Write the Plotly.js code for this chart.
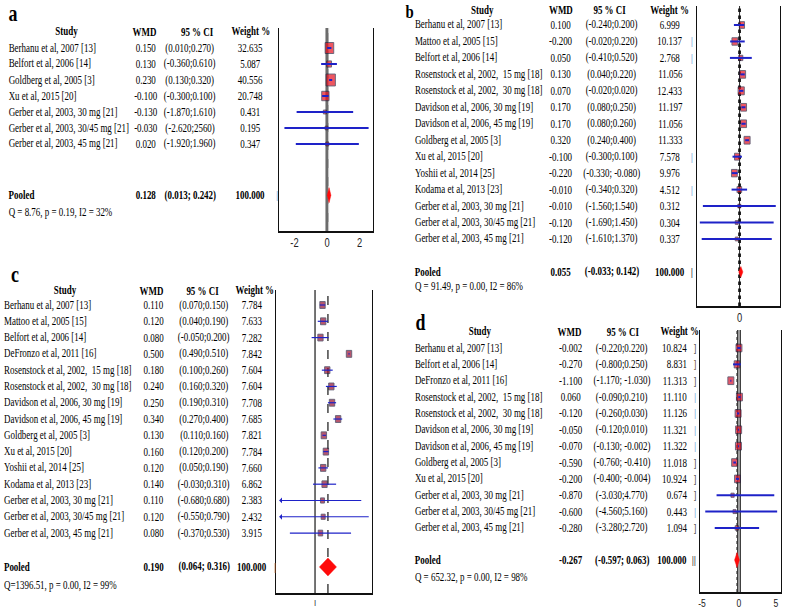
<!DOCTYPE html>
<html><head><meta charset="utf-8">
<script src="https://cdn.plot.ly/plotly-3.0.1.min.js"></script>
<style>
html,body{margin:0;padding:0;overflow:hidden;background:#fff;}
#wrap{width:786px;height:611px;overflow:hidden;}
#chart{width:1008px;height:611px;transform:scaleX(0.779762);transform-origin:0 0;}
</style></head><body><div id="wrap"><div id="chart"></div></div>
<script>
// ================= DATA =================
// Panel a
const studiesA = ["Berhanu et al, 2007 [13]","Belfort et al, 2006 [14]","Goldberg et al, 2005 [3]","Xu et al, 2015 [20]","Gerber et al, 2003, 30 mg [21]","Gerber et al, 2003, 30/45 mg [21]","Gerber et al, 2003, 45 mg [21]"];
const wmdA = [0.150, 0.130, 0.230, -0.100, -0.130, -0.030, 0.020];
const ciLoA = [0.010, -0.360, 0.130, -0.300, -1.870, -2.620, -1.920];
const ciHiA = [0.270, 0.610, 0.320, 0.100, 1.610, 2.560, 1.960];
const ciTextA = ["(0.010;0.270)","(-0.360;0.610)","(0.130;0.320)","(-0.300;0.100)","(-1.870;1.610)","(-2.620;2560)","(-1.920;1.960)"];
const weightA = [32.635, 5.087, 40.556, 20.748, 0.431, 0.195, 0.347];
const pooledA = [0.128, 0.013, 0.242];
const qTextA = "Q = 8.76, p = 0.19, I2 = 32%";

// Panel b
const studiesB = ["Berhanu et al, 2007 [13]","Mattoo et al, 2005 [15]","Belfort et al, 2006 [14]","Rosenstock et al, 2002,  15 mg [18]","Rosenstock et al, 2002,  30 mg [18]","Davidson et al, 2006, 30 mg [19]","Davidson et al, 2006, 45 mg [19]","Goldberg et al, 2005 [3]","Xu et al, 2015 [20]","Yoshii et al, 2014 [25]","Kodama et al, 2013 [23]","Gerber et al, 2003, 30 mg [21]","Gerber et al, 2003, 30/45 mg [21]","Gerber et al, 2003, 45 mg [21]"];
const wmdB = [0.100, -0.200, 0.050, 0.130, 0.070, 0.170, 0.170, 0.320, -0.100, -0.220, -0.010, -0.010, -0.120, -0.120];
const ciLoB = [-0.240, -0.400, -0.410, 0.040, -0.020, 0.080, 0.080, 0.240, -0.300, -0.330, -0.340, -1.560, -1.690, -1.610];
const ciHiB = [0.200, 0.220, 0.520, 0.220, 0.160, 0.250, 0.260, 0.400, 0.100, -0.080, 0.320, 1.540, 1.450, 1.370];
const ciTextB = ["(-0.240;0.200)","(-0.020;0.220)","(-0.410;0.520)","(0.040;0.220)","(-0.020;0.020)","(0.080;0.250)","(0.080;0.260)","(0.240;0.400)","(-0.300;0.100)","(-0.330; -0.080)","(-0.340;0.320)","(-1.560;1.540)","(-1.690;1.450)","(-1.610;1.370)"];
const weightB = [6.999, 10.137, 2.768, 11.056, 12.433, 11.197, 11.056, 11.333, 7.578, 9.976, 4.512, 0.312, 0.304, 0.337];
const pooledB = [0.055, -0.033, 0.142];
const qTextB = "Q = 91.49, p = 0.00, I2 = 86%";

// Panel c
const studiesC = ["Berhanu et al, 2007 [13]","Mattoo et al, 2005 [15]","Belfort et al, 2006 [14]","DeFronzo et al, 2011 [16]","Rosenstock et al, 2002,  15 mg [18]","Rosenstock et al, 2002,  30 mg [18]","Davidson et al, 2006, 30 mg [19]","Davidson et al, 2006, 45 mg [19]","Goldberg et al, 2005 [3]","Xu et al, 2015 [20]","Yoshii et al, 2014 [25]","Kodama et al, 2013 [23]","Gerber et al, 2003, 30 mg [21]","Gerber et al, 2003, 30/45 mg [21]","Gerber et al, 2003, 45 mg [21]"];
const wmdC = [0.110, 0.120, 0.080, 0.500, 0.180, 0.240, 0.250, 0.340, 0.130, 0.160, 0.120, 0.140, 0.110, 0.120, 0.080];
const ciLoC = [0.070, 0.040, -0.050, 0.490, 0.100, 0.160, 0.190, 0.270, 0.110, 0.120, 0.050, -0.030, -0.680, -0.550, -0.370];
const ciHiC = [0.150, 0.190, 0.200, 0.510, 0.260, 0.320, 0.310, 0.400, 0.160, 0.200, 0.190, 0.310, 0.680, 0.790, 0.530];
const ciTextC = ["(0.070;0.150)","(0.040;0.190)","(-0.050;0.200)","(0.490;0.510)","(0.100;0.260)","(0.160;0.320)","(0.190;0.310)","(0.270;0.400)","(0.110;0.160)","(0.120;0.200)","(0.050;0.190)","(-0.030;0.310)","(-0.680;0.680)","(-0.550;0.790)","(-0.370;0.530)"];
const weightC = [7.784, 7.633, 7.282, 7.842, 7.604, 7.604, 7.708, 7.685, 7.821, 7.784, 7.660, 6.862, 2.383, 2.432, 3.915];
const pooledC = [0.190, 0.064, 0.316];
const qTextC = "Q=1396.51, p = 0.00, I2 = 99%";

// Panel d
const studiesD = ["Berhanu et al, 2007 [13]","Belfort et al, 2006 [14]","DeFronzo et al, 2011 [16]","Rosenstock et al, 2002,  15 mg [18]","Rosenstock et al, 2002,  30 mg [18]","Davidson et al, 2006, 30 mg [19]","Davidson et al, 2006, 45 mg [19]","Goldberg et al, 2005 [3]","Xu et al, 2015 [20]","Gerber et al, 2003, 30 mg [21]","Gerber et al, 2003, 30/45 mg [21]","Gerber et al, 2003, 45 mg [21]"];
const wmdD = [-0.002, -0.270, -1.100, 0.060, -0.120, -0.050, -0.070, -0.590, -0.200, -0.870, -0.600, -0.280];
const ciLoD = [-0.220, -0.800, -1.170, -0.090, -0.260, -0.120, -0.130, -0.760, -0.400, -3.030, -4.560, -3.280];
const ciHiD = [0.220, 0.250, -1.030, 0.210, 0.030, 0.010, -0.002, -0.410, -0.004, 4.770, 5.160, 2.720];
const ciTextD = ["(-0.220;0.220)","(-0.800;0.250)","(-1.170; -1.030)","(-0.090;0.210)","(-0.260;0.030)","(-0.120;0.010)","(-0.130; -0.002)","(-0.760; -0.410)","(-0.400; -0.004)","(-3.030;4.770)","(-4.560;5.160)","(-3.280;2.720)"];
const weightD = [10.824, 8.831, 11.313, 11.110, 11.126, 11.321, 11.322, 11.018, 10.924, 0.674, 0.443, 1.094];
const pooledD = [-0.267, -0.597, 0.063];
const qTextD = "Q = 652.32, p = 0.00, I2 = 98%";

const headerLabels = ["Study", "WMD", "95 % CI", "Weight %"];

// ================= LAYOUT HELPERS =================
const W = 1008, H = 611;
const SERIF = "Liberation Serif, Times New Roman, serif";
const SANS = "Liberation Sans, Arial, sans-serif";
const FS = 11.5;
function px(x){ return x / 786; }
function py(y){ return 1 - y / 611; }

const panels = [
  {name:'a', studies:studiesA, wmd:wmdA, lo:ciLoA, hi:ciHiA, ciText:ciTextA, wt:weightA, pooled:pooledA, q:qTextA,
   L:279, R:373, T:28, B:231, row0:48, sp:16, pooledRow:9.2, qRow:10.3, hdrRow:-1.0,
   xr:[-2.954, 2.831], tickvals:[-2,0,2], ticktext:['-2','0','2'], tickSize:12,
   col:{study:8, wmd:146, ci:190, wt:250, wtAnchor:'center'}, hdr:[67,145,197,251],
   label:[13, 13.6, 23], ciW:2, box:'#e8101e', dH:0.47, clipLo:null, ref:'a',
   marks:[{r:'p', x:277, t:'|', c:'#7fb0e0'}]},
  {name:'b', studies:studiesB, wmd:wmdB, lo:ciLoB, hi:ciHiB, ciText:ciTextB, wt:weightB, pooled:pooledB, q:qTextB,
   L:697, R:780, T:6, B:306, row0:25, sp:16.46, pooledRow:15.0, qRow:15.9, hdrRow:-0.91,
   xr:[-1.81, 1.72], tickvals:[0], ticktext:['0'], tickSize:12,
   col:{study:414, wmd:561, ci:612, wt:670, wtAnchor:'center'}, hdr:[482,561,610,670],
   label:[410, 11.2, 19], ciW:2, box:'#e8101e', dH:0.33, clipLo:null, ref:'b',
   marks:[{r:1,x:692,t:'|',c:'#7fb0e0'},{r:2,x:692,t:'|',c:'#7fb0e0'},{r:8,x:692,t:'|',c:'#7fb0e0'},{r:10,x:692,t:'|',c:'#7fb0e0'},{r:'p',x:692,t:'|',c:'#334'}]},
  {name:'c', studies:studiesC, wmd:wmdC, lo:ciLoC, hi:ciHiC, ciText:ciTextC, wt:weightC, pooled:pooledC, q:qTextC,
   L:276, R:372, T:290, B:593, row0:305, sp:16.29, pooledRow:16.08, qRow:17.19, hdrRow:-0.86,
   xr:[-0.574, 0.838], tickvals:[0], ticktext:['ı'], tickSize:10,
   col:{study:3, wmd:154, ci:204, wt:252, wtAnchor:'center'}, hdr:[65,152,203,255],
   label:[15, 274.6, 23], ciW:1.2, box:'#9a1030', dH:0.55, clipLo:-0.5, ref:'c',
   marks:[{r:'p', x:275, t:'|', c:'#999'}]},
  {name:'d', studies:studiesD, wmd:wmdD, lo:ciLoD, hi:ciHiD, ciText:ciTextD, wt:weightD, pooled:pooledD, q:qTextD,
   L:700, R:781, T:330, B:592, row0:348, sp:16.36, pooledRow:12.96, qRow:14.0, hdrRow:-0.98,
   xr:[-5.27, 5.68], tickvals:[-5,0,5], ticktext:['-5','0','5'], tickSize:11,
   col:{study:414, wmd:571, ci:622, wt:688, wtAnchor:'right'}, hdr:[480,570,623,680],
   label:[421, 322.6, 23], ciW:2, box:'#d8102a', dH:0.46, clipLo:null, ref:'d',
   marks:[{r:0,x:695,t:']',c:'#555'},{r:1,x:695,t:']',c:'#7a5a40'},{r:2,x:695,t:']',c:'#555'},{r:3,x:695,t:'|',c:'#7fb0e0'},{r:4,x:695,t:'|',c:'#7fb0e0'},{r:5,x:695,t:'|',c:'#7fb0e0'},{r:6,x:695,t:'|',c:'#7fb0e0'},{r:7,x:695,t:']',c:'#555'},{r:8,x:695,t:']',c:'#555'},{r:9,x:695,t:']',c:'#555'},{r:10,x:695,t:'|',c:'#7fb0e0'},{r:11,x:695,t:']',c:'#555'},{r:'p',x:694,t:'||',c:'#444'}]}
];

const traces = [], shapes = [], annotations = [];
const layout = {width:W, height:H, margin:{l:0,r:0,t:0,b:0,pad:0}, paper_bgcolor:'#fff', plot_bgcolor:'rgba(0,0,0,0)',
  showlegend:false, shapes:shapes, annotations:annotations, hovermode:false};

function addText(x, y, text, opts){
  annotations.push(Object.assign({xref:'paper', yref:'paper', x:px(x), y:py(y), text:text, showarrow:false,
    xanchor:'center', yanchor:'middle', borderpad:0, font:{family:SERIF, size:FS, color:'#000'}}, opts || {}));
}

panels.forEach(function(p, k){
  const n = k === 0 ? '' : String(k + 1);
  const xa = 'x' + n, ya = 'y' + n;
  const rTop = (p.T - p.row0) / p.sp, rBot = (p.B - p.row0) / p.sp;
  const rowPx = function(r){ return p.row0 + r * p.sp; };

  layout['xaxis' + n] = {domain:[px(p.L), px(p.R)], range:p.xr, anchor:ya, showline:true, linecolor:'#111', linewidth:1.5,
    mirror:false, showgrid:false, zeroline:false, ticks:'', tickvals:p.tickvals, ticktext:p.ticktext,
    tickfont:{family:SANS, size:p.tickSize, color:'#222'}, fixedrange:true};
  layout['yaxis' + n] = {domain:[py(p.B), py(p.T)], range:[rBot, rTop], anchor:xa, showline:true, mirror:true,
    linecolor:'#111', linewidth:1.5, showgrid:false, zeroline:false, showticklabels:false, ticks:'', fixedrange:true};

  const rows = p.studies.map(function(_, i){ return i; });

  // reference lines
  const est = p.pooled[0];
  if (p.ref === 'a') {
    shapes.push({type:'line', xref:xa, yref:ya + ' domain', x0:0, x1:0, y0:0, y1:1, layer:'below', line:{color:'#6c6c6c', width:4}});
    shapes.push({type:'line', xref:xa, yref:ya + ' domain', x0:est, x1:est, y0:0, y1:1, layer:'below', line:{color:'#f4f4f4', width:1.2, dash:'dash'}});
  } else if (p.ref === 'b') {
    shapes.push({type:'line', xref:xa, yref:ya + ' domain', x0:0, x1:0, y0:0, y1:1, layer:'below', line:{color:'#111', width:1}});
    shapes.push({type:'line', xref:xa, yref:ya + ' domain', x0:0, x1:0, y0:0, y1:1, layer:'below', line:{color:'#111', width:3.5, dash:'dot'}});
  } else if (p.ref === 'c') {
    shapes.push({type:'line', xref:xa, yref:ya + ' domain', x0:0, x1:0, y0:0, y1:1, layer:'below', line:{color:'#111', width:1.5}});
    shapes.push({type:'line', xref:xa, yref:ya + ' domain', x0:est, x1:est, y0:0, y1:1, layer:'below', line:{color:'#111', width:1.5, dash:'dash'}});
  } else {
    shapes.push({type:'line', xref:xa, yref:ya + ' domain', x0:0, x1:0, y0:0, y1:1, layer:'below', line:{color:'#222', width:5}});
    shapes.push({type:'line', xref:xa, yref:ya + ' domain', x0:0, x1:0, y0:0, y1:1, layer:'below', line:{color:'#9a9a9a', width:3}});
    shapes.push({type:'line', xref:xa, yref:ya + ' domain', x0:est, x1:est, y0:0, y1:1, layer:'below', line:{color:'#333', width:1.5, dash:'dot'}});
  }

  // study boxes
  traces.push({type:'scatter', mode:'markers', xaxis:xa, yaxis:ya, x:p.wmd, y:rows, hoverinfo:'skip',
    marker:{symbol:'square', size:p.wt.map(function(w){ return 3 + 1.4 * Math.sqrt(w); }), color:p.box, line:{color:'#1c1c3c', width:1}}});

  // confidence intervals
  const lx = [], ly = [];
  p.lo.forEach(function(lo, i){
    const a = p.clipLo !== null ? Math.max(lo, p.clipLo) : lo;
    lx.push(a, p.hi[i], null); ly.push(i, i, null);
  });
  traces.push({type:'scatter', mode:'lines', xaxis:xa, yaxis:ya, x:lx, y:ly, hoverinfo:'skip', line:{color:'#1e22c8', width:p.ciW}});
  if (p.clipLo !== null) {
    const axv = [], ayv = [];
    p.lo.forEach(function(lo, i){ if (lo < p.clipLo) { axv.push(p.clipLo); ayv.push(i); } });
    traces.push({type:'scatter', mode:'markers', xaxis:xa, yaxis:ya, x:axv, y:ayv, hoverinfo:'skip',
      marker:{symbol:'triangle-left', size:5, color:'#1e22c8'}});
  }

  // pooled diamond
  const pr = p.pooledRow, plo = p.pooled[1], phi = p.pooled[2], h = p.dH;
  traces.push({type:'scatter', mode:'lines', fill:'toself', xaxis:xa, yaxis:ya, hoverinfo:'skip',
    x:[plo, est, phi, est, plo], y:[pr, pr - h, pr, pr + h, pr], fillcolor:'#ff0a0a', line:{color:'#ff0a0a', width:0.5}});

  // panel letter
  addText(p.label[0], p.label[1], '<b>' + p.name + '</b>', {font:{family:SERIF, size:p.label[2], color:'#000'}});

  // header
  const hy = rowPx(p.hdrRow);
  addText(p.hdr[0], hy, '<b>' + headerLabels[0] + '</b>');
  addText(p.hdr[1], hy, '<b>' + headerLabels[1] + '</b>');
  addText(p.hdr[2], hy, '<b>' + headerLabels[2] + '</b>');
  addText(p.hdr[3], hy, '<b>' + headerLabels[3] + '</b>');

  // rows
  p.studies.forEach(function(s, i){
    const y = rowPx(i);
    addText(p.col.study, y, s, {xanchor:'left'});
    addText(p.col.wmd, y, p.wmd[i].toFixed(3));
    addText(p.col.ci, y, p.ciText[i]);
    addText(p.col.wt, y, p.wt[i].toFixed(3), {xanchor:p.col.wtAnchor});
  });

  // pooled row
  const yp = rowPx(p.pooledRow);
  addText(p.col.study, yp, '<b>Pooled</b>', {xanchor:'left'});
  addText(p.col.wmd, yp, '<b>' + est.toFixed(3) + '</b>');
  addText(p.col.ci, yp, '<b>(' + plo.toFixed(3) + '; ' + phi.toFixed(3) + ')</b>');
  addText(p.col.wt, yp, '<b>100.000</b>', {xanchor:p.col.wtAnchor});
  addText(p.col.study, rowPx(p.qRow), p.q, {xanchor:'left'});

  // small stray marks at the table edge
  p.marks.forEach(function(m){
    const r = m.r === 'p' ? p.pooledRow : m.r;
    addText(m.x, rowPx(r), m.t, {font:{family:SANS, size:11, color:m.c}});
  });
});

Plotly.newPlot('chart', traces, layout, {staticPlot:true, displayModeBar:false});
</script></body></html>
